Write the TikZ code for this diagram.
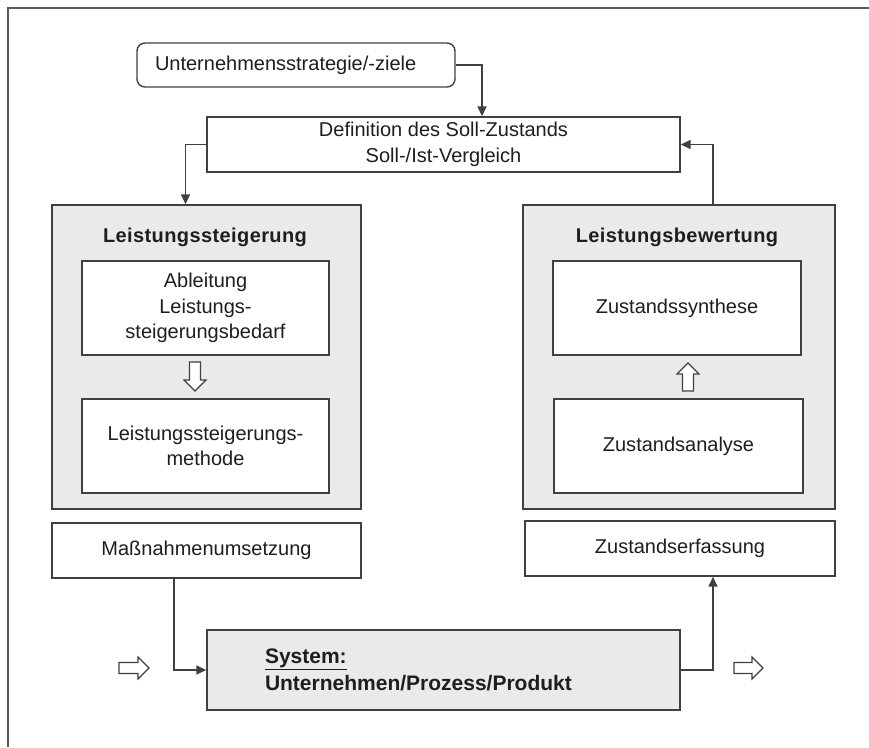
\documentclass[tikz,border=0pt]{standalone}
\usepackage{fontspec}
\setmainfont{Liberation Sans}
\usetikzlibrary{arrows.meta}

\definecolor{linegray}{HTML}{404040}
\definecolor{framegray}{HTML}{5A5A5A}
\definecolor{boxgray}{HTML}{E9EAEC}
\definecolor{txtcol}{HTML}{1E1E1E}

\tikzset{
  basefont/.style={font=\fontsize{20}{25.5}\selectfont},
  box/.style={basefont, draw=linegray, line width=1.4pt, fill=white, text=txtcol,
    inner sep=0pt, align=center},
  graybox/.style={box, fill=boxgray},
  titletext/.style={font=\fontsize{20}{25}\selectfont\bfseries\addfontfeature{LetterSpace=2}, text=txtcol, inner sep=0pt},
  systext/.style={font=\fontsize{21}{27}\selectfont\bfseries, text=txtcol, inner sep=0pt, align=left},
  arr/.style={draw=linegray, line width=1.4pt, -{Triangle[length=10pt,width=9pt]}},
  hollowline/.style={draw=linegray, line width=1.1pt, fill=white, line join=miter},
  framebar/.style={draw=framegray, line width=2pt},
  pics/hollowarrow/.style={code={
    \draw[hollowline] (0,-5.5) -- ({#1-11},-5.5) -- ({#1-11},-11) -- (#1,0)
      -- ({#1-11},11) -- ({#1-11},5.5) -- (0,5.5) -- cycle;}}
}

\begin{document}
\begin{tikzpicture}[x=1pt,y=-1pt]
\useasboundingbox (0,0) rectangle (869,747);

% outer frame (top and left edges)
\draw[framebar] (869,8) -- (8,8) -- (8,747);

% strategy and target definition
\node[box, rounded corners=8pt, minimum width=318, minimum height=44,
      text width=282, align=left] (strat) at (296,65) {Unternehmensstrategie/-ziele};
\node[box, minimum width=473, minimum height=55] (def) at (443.5,144.5)
  {Definition des Soll-Zustands\\Soll-/Ist-Vergleich};

% performance improvement block
\node[graybox, minimum width=309, minimum height=304] (lsg) at (206.5,357) {};
\node[titletext] (lsgtitle) at (205,237) {Leistungssteigerung};
\node[box, minimum width=247, minimum height=94] (abl) at (205.5,308)
  {Ableitung\\Leistungs-\\steigerungsbedarf};
\node[box, minimum width=247, minimum height=94] (lsm) at (205.5,446)
  {Leistungssteigerungs-\\methode};
\pic[rotate=-90] at (195,362) {hollowarrow=29};

% performance evaluation block
\node[graybox, minimum width=312, minimum height=304] (lbw) at (679,357) {};
\node[titletext] (lbwtitle) at (677,237) {Leistungsbewertung};
\node[box, minimum width=248, minimum height=94] (syn) at (677,308) {Zustandssynthese};
\node[box, minimum width=249, minimum height=94] (ana) at (678.5,446) {Zustandsanalyse};
\pic[rotate=90] at (688,391) {hollowarrow=28};

% implementation and data capture
\node[box, minimum width=309, minimum height=55] (mas) at (206.5,550.5) {Maßnahmenumsetzung};
\node[box, minimum width=310, minimum height=55] (erf) at (680,548.5) {Zustandserfassung};

% system under consideration
\node[graybox, minimum width=473, minimum height=80] (sys) at (443.5,670) {};
\node[systext, text width=357] (systxt) at (sys.center)
  {\underline{System:}\\Unternehmen/Prozess/Produkt};
\pic at (119,668) {hollowarrow=30};
\pic at (734,668) {hollowarrow=29};

% connectors
\draw[arr] (strat.east) -| ([xshift=38.5pt]def.north);
\draw[arr] (def.west) -| ([xshift=-21pt]lsg.north);
\draw[arr] ([xshift=34pt]lbw.north) |- (def.east);
\draw[arr] ([xshift=-32.5pt]mas.south) |- (sys.west);
\draw[arr] (sys.east) -| ([xshift=33pt]erf.south);
\end{tikzpicture}
\end{document}
